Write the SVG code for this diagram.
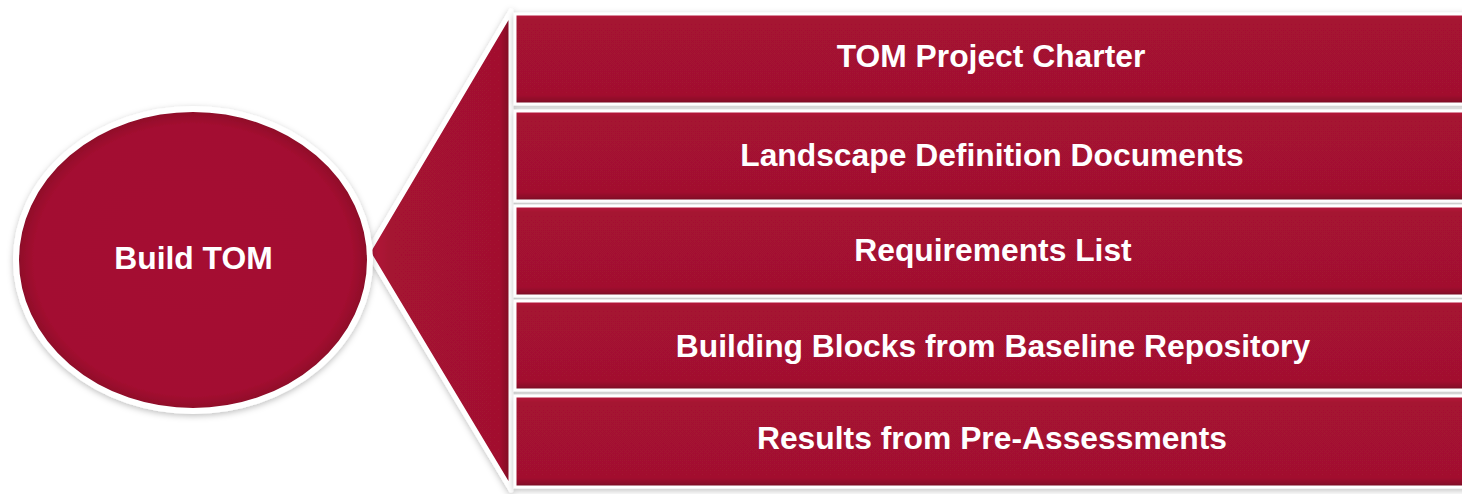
<svg xmlns="http://www.w3.org/2000/svg" width="1462" height="494" viewBox="0 0 1462 494">
<defs>
<filter id="sh" x="-10%" y="-10%" width="120%" height="120%">
<feDropShadow dx="0" dy="2" stdDeviation="3" flood-color="#000" flood-opacity="0.25"/>
</filter>
<linearGradient id="barG" x1="0" y1="0" x2="0" y2="1">
<stop offset="0" stop-color="#b9173b"/>
<stop offset="0.07" stop-color="#a51232"/>
<stop offset="0.9" stop-color="#a2112f"/>
<stop offset="0.96" stop-color="#8c0e29"/>
<stop offset="1" stop-color="#6d0a1f"/>
</linearGradient>
<radialGradient id="ellG" cx="0.5" cy="0.5" r="0.5">
<stop offset="0" stop-color="#a51131"/>
<stop offset="0.9" stop-color="#a31130"/>
<stop offset="0.97" stop-color="#930f2b"/>
<stop offset="1" stop-color="#7e0c24"/>
</radialGradient>
<linearGradient id="triG" x1="0" y1="0" x2="1" y2="0">
<stop offset="0" stop-color="#b5163a"/>
<stop offset="0.15" stop-color="#a51232"/>
<stop offset="0.92" stop-color="#a2112f"/>
<stop offset="1" stop-color="#7c0b23"/>
</linearGradient>
</defs>
<style>
.bar{fill:url(#barG);stroke:#fff;stroke-width:3;filter:url(#sh)}
.lbl{font-family:"Liberation Sans",Arial,sans-serif;font-weight:bold;font-size:31.8px;fill:#fff;text-anchor:middle}
</style>
<rect width="1462" height="494" fill="#fff"/>
<g id="connectors">
<polygon id="fan" points="368,252 511,11 511,490" fill="url(#triG)" stroke="#fff" stroke-width="5" stroke-linejoin="round" filter="url(#sh)"/>
</g>
<g id="node-build-tom">
<ellipse cx="193" cy="260" rx="177" ry="151" fill="url(#ellG)" stroke="#fff" stroke-width="6" filter="url(#sh)"/>
<text class="lbl" x="193.5" y="269">Build TOM</text>
</g>
<g id="node-charter">
<rect class="bar" x="515" y="14" width="960" height="90"/>
<text class="lbl" x="991" y="67">TOM Project Charter</text>
</g>
<g id="node-landscape">
<rect class="bar" x="515" y="111" width="960" height="90"/>
<text class="lbl" x="992" y="166">Landscape Definition Documents</text>
</g>
<g id="node-requirements">
<rect class="bar" x="515" y="206" width="960" height="90"/>
<text class="lbl" x="993" y="261">Requirements List</text>
</g>
<g id="node-building-blocks">
<rect class="bar" x="515" y="301" width="960" height="89"/>
<text class="lbl" x="993" y="357">Building Blocks from Baseline Repository</text>
</g>
<g id="node-results">
<rect class="bar" x="515" y="396" width="960" height="91"/>
<text class="lbl" x="992" y="449">Results from Pre-Assessments</text>
</g>
</svg>
